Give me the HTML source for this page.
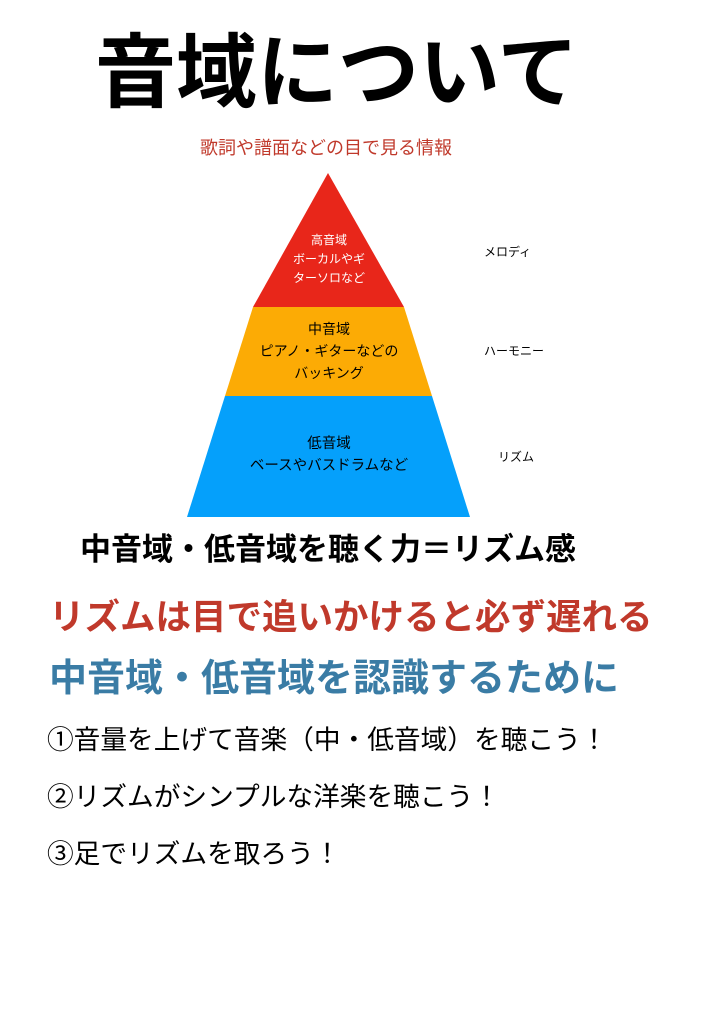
<!DOCTYPE html>
<html><head><meta charset="utf-8"><style>
body{margin:0;width:724px;height:1024px;background:#fff;position:relative;overflow:hidden;font-family:"Liberation Sans","Noto Sans CJK JP",sans-serif}
.t{position:absolute;white-space:nowrap;line-height:1}
.c{text-align:center;transform:translateX(-50%)}
</style></head><body>
<div class="t" style="left:95px;top:34px;font-size:81px;font-weight:bold;color:#000">音域について</div>
<div class="t c" style="left:326px;top:139px;font-size:18px;color:#c0392b">歌詞や譜面などの目で見る情報</div>
<svg style="position:absolute;left:0;top:0" width="724" height="1024">
<polygon points="328,173 404,307 253,307" fill="#e8261a"/>
<polygon points="253,307 404,307 432,396 225,396" fill="#fcab05"/>
<polygon points="225,396 432,396 470,517 187,517" fill="#05a0fb"/>
</svg>
<div class="t c" style="left:329px;top:231px;font-size:12px;color:#fff;line-height:19px;text-align:center">高音域<br>ボーカルやギ<br>ターソロなど</div>
<div class="t c" style="left:329px;top:318px;font-size:14px;color:#000;line-height:22px;text-align:center">中音域<br>ピアノ・ギターなどの<br>バッキング</div>
<div class="t c" style="left:329px;top:433px;font-size:14.5px;color:#000;line-height:22px;text-align:center">低音域<br>ベースやバスドラムなど</div>
<div class="t" style="left:484px;top:246px;font-size:12px">メロディ</div>
<div class="t" style="left:484px;top:345px;font-size:12px">ハーモニー</div>
<div class="t" style="left:498px;top:451px;font-size:12px">リズム</div>
<div class="t" style="left:80px;top:534px;font-size:31px;font-weight:bold">中音域・低音域を聴く力＝リズム感</div>
<div class="t" style="left:49px;top:600px;font-size:35.5px;font-weight:bold;color:#c0392b">リズムは目で追いかけると必ず遅れる</div>
<div class="t" style="left:49px;top:660px;font-size:38px;font-weight:bold;color:#3a7ca5">中音域・低音域を認識するために</div>
<div class="t" style="left:47px;top:727px;font-size:26.7px">①音量を上げて音楽（中・低音域）を聴こう！</div>
<div class="t" style="left:47px;top:784px;font-size:26.7px">②リズムがシンプルな洋楽を聴こう！</div>
<div class="t" style="left:47px;top:841px;font-size:26.7px">③足でリズムを取ろう！</div>
</body></html>
